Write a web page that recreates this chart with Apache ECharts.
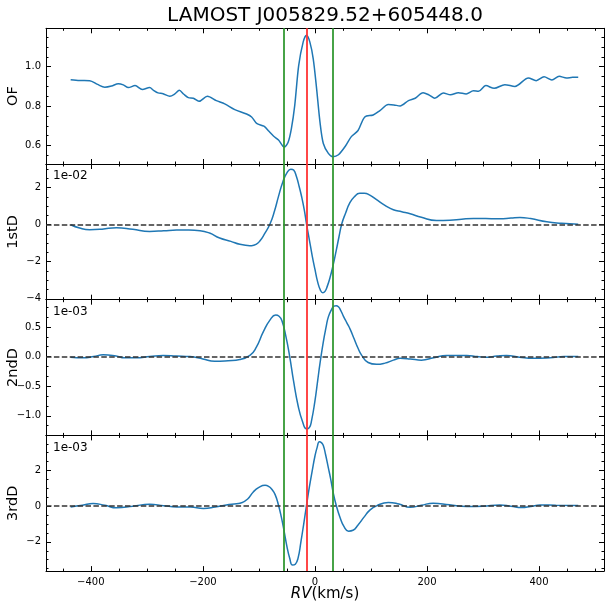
<!DOCTYPE html>
<html><head><meta charset="utf-8">
<script src="https://cdn.jsdelivr.net/npm/echarts@6/dist/echarts.min.js"></script>
<style>html,body{margin:0;padding:0;background:#fff}#c{width:611px;height:611px}</style>
</head><body><div id="c"></div>
<script>
const chartTitle = 'LAMOST J005829.52+605448.0';
const panelNames = ['OF', '1stD', '2ndD', '3rdD'];
const scaleNotes = [null, '1e-02', '1e-03', '1e-03'];

const rvOF = [-436,-420,-402,-388,-375,-363,-351,-342,-333,-321,-308,-295,-288,-280,-271,-259,-250,-242,-234,-226,-217,-207,-192,-176,-161,-143,-122,-113,-104,-91,-82,-74,-65,-55,-48,-42,-36,-29,-21,-15,-9,-3,3,9,15,24,32,42,54,65,77,89,104,116,131,141,152,167,179,193,204,214,229,242,256,270,283,292,305,320,339,357,381,395,409,423,436,449,460,470];
const valOF = [0.934,0.930,0.929,0.910,0.896,0.902,0.914,0.908,0.894,0.904,0.884,0.894,0.880,0.867,0.863,0.850,0.862,0.880,0.860,0.843,0.840,0.824,0.850,0.828,0.811,0.782,0.760,0.745,0.712,0.698,0.672,0.648,0.628,0.592,0.615,0.686,0.804,1.005,1.125,1.160,1.125,1.040,0.889,0.720,0.610,0.560,0.543,0.553,0.595,0.645,0.676,0.745,0.755,0.777,0.808,0.806,0.801,0.828,0.840,0.868,0.856,0.840,0.867,0.857,0.868,0.862,0.878,0.875,0.904,0.890,0.909,0.900,0.943,0.929,0.949,0.933,0.951,0.943,0.946,0.946];

const rvD1 = [-436,-420,-402,-380,-354,-325,-295,-270,-247,-225,-205,-188,-170,-150,-134,-120,-113,-105,-98,-90,-80,-72,-65,-57,-50,-43,-38,-33,-28,-24,-19,-15,-10,-5,0,5,10,14,18,22,27,32,38,43,48,55,62,70,80,88,98,110,125,140,155,170,190,217,241,262,283,305,330,350,366,385,414,440,470];
const valD1 = [0,-0.18,-0.27,-0.24,-0.16,-0.25,-0.36,-0.33,-0.29,-0.29,-0.32,-0.45,-0.72,-0.90,-1.06,-1.12,-1.13,-1.06,-0.87,-0.50,0.05,0.75,1.53,2.34,2.80,3.00,2.95,2.60,2.05,1.55,0.80,0.05,-0.80,-1.65,-2.40,-3.10,-3.55,-3.68,-3.60,-3.33,-2.85,-2.25,-1.40,-0.65,0.05,0.65,1.17,1.50,1.70,1.70,1.60,1.35,1.05,0.81,0.70,0.59,0.40,0.23,0.24,0.30,0.34,0.33,0.32,0.36,0.39,0.33,0.16,0.08,0.02];

const rvD2 = [-436,-414,-395,-378,-355,-340,-319,-295,-271,-247,-223,-200,-179,-155,-134,-116,-105,-92,-80,-70,-64,-59,-52,-45,-38,-30,-22,-15,-10,-6,0,5,9,15,20,24,30,34,38,42,46,51,57,63,70,77,83,95,110,125,140,152,170,190,212,235,253,271,290,306,325,342,365,390,420,445,470];
const valD2 = [-0.01,-0.02,0.00,0.03,0.01,-0.02,-0.02,0.00,0.02,0.01,0.00,-0.04,-0.08,-0.07,-0.05,0.02,0.15,0.42,0.62,0.70,0.68,0.61,0.35,0.00,-0.42,-0.83,-1.10,-1.22,-1.20,-1.08,-0.75,-0.40,-0.12,0.25,0.50,0.67,0.80,0.85,0.86,0.84,0.78,0.68,0.57,0.46,0.30,0.14,0.03,-0.10,-0.13,-0.11,-0.06,-0.03,-0.04,-0.06,-0.02,0.02,0.02,0.02,0.00,-0.01,0.01,0.02,-0.01,-0.03,-0.02,0.00,0.00];

const rvD3 = [-436,-415,-396,-375,-354,-325,-295,-270,-247,-222,-199,-178,-158,-140,-131,-120,-110,-100,-89,-82,-77,-71,-65,-60,-55,-50,-45,-40,-35,-30,-25,-20,-15,-10,-5,0,4,8,12,15,19,24,28,33,38,45,52,60,68,77,88,98,110,131,150,170,190,211,240,271,300,330,350,369,385,402,430,470];
const valD3 = [-0.04,0.05,0.15,0.05,-0.09,0.00,0.11,0.03,-0.04,-0.05,-0.13,-0.05,0.07,0.14,0.19,0.40,0.80,1.05,1.17,1.10,0.95,0.65,0.05,-0.60,-1.40,-2.25,-2.92,-3.30,-3.25,-2.90,-2.00,-1.00,0.05,1.05,1.95,2.80,3.30,3.62,3.55,3.40,2.90,2.15,1.55,0.70,0.05,-0.65,-1.15,-1.40,-1.35,-1.05,-0.60,-0.22,0.02,0.21,0.12,-0.06,0.05,0.17,0.08,-0.02,0.00,0.07,0.00,-0.08,-0.02,0.07,0.05,0.04];

const vLines = [-55, -14, 32];
const vColors = ['#339933', '#ff3333', '#339933'];

const xRange = [-480, 516];
const xTicks = [-400, -200, 0, 200, 400];
const yRanges = [[0.506, 1.195], [-4.05, 3.28], [-1.33, 0.96], [-3.64, 3.97]];
const yTicks = [[0.6, 0.8, 1.0], [-4, -2, 0, 2], [-1.0, -0.5, 0.0, 0.5], [-2, 0, 2]];
const yTickDecimals = [1, 0, 1, 0];
const yMinorDivs = [4, 4, 3, 4];

const FONT = 'DejaVu Sans';
function fmt(v, d) { return (v < 0 ? '\u2212' : '') + Math.abs(v).toFixed(d); }
function minorTicks(range, majors, divs) {
  const step = (majors[1] - majors[0]) / divs;
  const out = [];
  const k0 = Math.ceil((range[0] - majors[0]) / step - 1e-9);
  const k1 = Math.floor((range[1] - majors[0]) / step + 1e-9);
  for (let k = k0; k <= k1; k++) {
    if (((k % divs) + divs) % divs === 0) continue;
    out.push(+(majors[0] + k * step).toFixed(6));
  }
  return out;
}

const panelX = [rvOF, rvD1, rvD2, rvD3];
const panelY = [valOF, valD1, valD2, valD3];
const xMinor = minorTicks(xRange, xTicks, 4);

const grids = [], xAxes = [], yAxes = [], series = [], graphics = [];
const P_TOP = 28.3, P_H = 135.7;

for (let i = 0; i < 4; i++) {
  const top = P_TOP + i * P_H;
  grids.push({left: 46, right: 7, top: top, height: P_H, containLabel: false, outerBoundsMode: 'none'});
  const yMinor = minorTicks(yRanges[i], yTicks[i], yMinorDivs[i]);
  ['bottom', 'top'].forEach(pos => {
    const isLabel = (i === 3 && pos === 'bottom');
    xAxes.push({
      type: 'value', gridIndex: i, min: xRange[0], max: xRange[1], position: pos,
      splitLine: {show: false},
      axisLine: {show: true, onZero: false, lineStyle: {color: '#000', width: 1}},
      axisTick: {show: true, inside: true, length: 5, customValues: xTicks, lineStyle: {color: '#000', width: 1}},
      axisLabel: {show: isLabel, customValues: xTicks, formatter: v => fmt(v, 0), margin: 6,
        fontSize: 10, color: '#000', fontFamily: FONT},
      name: isLabel ? '{it|RV}(km/s)' : '', nameLocation: 'middle', nameGap: 16, nameMoveOverlap: false,
      nameTextStyle: {fontSize: 15, color: '#000', fontFamily: FONT,
        rich: {it: {fontStyle: 'italic', fontSize: 15, color: '#000', fontFamily: FONT}}}
    });
    xAxes.push({
      type: 'value', gridIndex: i, min: xRange[0], max: xRange[1], position: pos,
      splitLine: {show: false}, axisLine: {show: false, onZero: false},
      axisTick: {show: true, inside: true, length: 2.5, customValues: xMinor, lineStyle: {color: '#000', width: 1}},
      axisLabel: {show: false}
    });
  });
  ['left', 'right'].forEach(pos => {
    const isLabel = pos === 'left';
    yAxes.push({
      type: 'value', gridIndex: i, min: yRanges[i][0], max: yRanges[i][1], position: pos,
      splitLine: {show: false},
      axisLine: {show: true, onZero: false, lineStyle: {color: '#000', width: 1}},
      axisTick: {show: true, inside: true, length: 5, customValues: yTicks[i], lineStyle: {color: '#000', width: 1}},
      axisLabel: {show: isLabel, customValues: yTicks[i], formatter: v => fmt(v, yTickDecimals[i]), margin: 5,
        fontSize: 10, color: '#000', fontFamily: FONT},
      name: isLabel ? panelNames[i] : '', nameLocation: 'middle', nameGap: 25, nameMoveOverlap: false,
      nameTextStyle: {fontSize: 14.5, color: '#000', fontFamily: FONT}
    });
    yAxes.push({
      type: 'value', gridIndex: i, min: yRanges[i][0], max: yRanges[i][1], position: pos,
      splitLine: {show: false}, axisLine: {show: false, onZero: false},
      axisTick: {show: true, inside: true, length: 2.5, customValues: yMinor, lineStyle: {color: '#000', width: 1}},
      axisLabel: {show: false}
    });
  });

  series.push({
    type: 'line', xAxisIndex: 4 * i, yAxisIndex: 4 * i,
    data: panelX[i].map((x, k) => [x, panelY[i][k]]),
    showSymbol: false, smooth: i === 0 ? 0.3 : 0.5,
    lineStyle: {color: '#1f77b4', width: 1.5}, itemStyle: {color: '#1f77b4'},
    z: 2, animation: false, silent: true
  });

  const ml = vLines.map((v, k) => ({xAxis: v, lineStyle: {color: vColors[k], width: 1.8, type: 'solid'}}));
  if (i > 0) ml.unshift({yAxis: 0, lineStyle: {color: '#333333', width: 1.5, type: [5.5, 2.4]}});
  series.push({
    type: 'line', xAxisIndex: 4 * i, yAxisIndex: 4 * i, data: [], z: 3, silent: true, animation: false,
    markLine: {symbol: ['none', 'none'], silent: true, animation: false, label: {show: false},
      emphasis: {disabled: true}, data: ml}
  });

  if (scaleNotes[i]) {
    graphics.push({type: 'text', left: 53, top: top + 6, z: 10,
      style: {text: scaleNotes[i], fontSize: 12, fill: '#000', fontFamily: FONT}});
  }
}

graphics.push({type: 'text', x: 325, y: 16, z: 10,
  style: {text: chartTitle, fontSize: 20, fill: '#000', fontFamily: FONT, textAlign: 'center', textVerticalAlign: 'middle'}});

const chart = echarts.init(document.getElementById('c'), null, {renderer: 'canvas'});
chart.setOption({
  backgroundColor: '#fff',
  animation: false,
  grid: grids, xAxis: xAxes, yAxis: yAxes, series: series, graphic: graphics
});
</script></body></html>
